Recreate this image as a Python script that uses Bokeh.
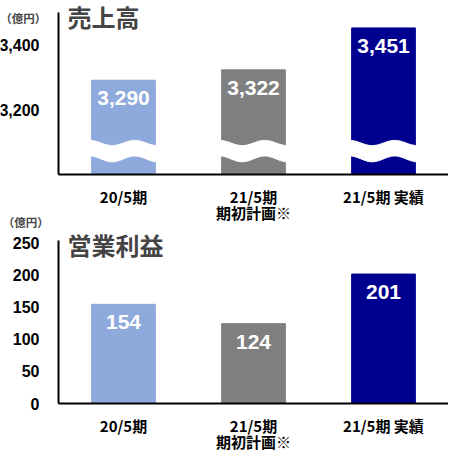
import numpy as np
from bokeh.plotting import figure
from bokeh.models import Range1d, FixedTicker, NumeralTickFormatter, Label, LinearAxis
from bokeh.core.properties import value
from bokeh.embed import file_html
from bokeh.resources import INLINE

# data
periods = ["20/5期", "21/5期\n期初計画※", "21/5期 実績"]
sales = [3290, 3322, 3451]
sales_labels = ["3,290", "3,322", "3,451"]
profit = [154, 124, 201]
profit_labels = ["154", "124", "201"]
colors = ["#8EA9DB", "#7F7F7F", "#000090"]
sales_ticks = [3200, 3400]
profit_ticks = [0, 50, 100, 150, 200, 250]

JP = "Noto Sans CJK JP"
NUM = "Liberation Sans"
pos = [i + 0.5 for i in range(len(periods))]   # bar centres
W, H = 448, 452

# one canvas, two value scales: sales on top, operating profit below
S_PX, P_PX = 0.325, 0.644          # pixels per unit
S_BASE, P_BASE = 174, 403          # pixel row of each chart's baseline
p = figure(x_range=Range1d(-58 / 130, (W - 58) / 130),
           y_range=Range1d(3000 - (H - S_BASE) / S_PX, 3000 + S_BASE / S_PX),
           width=W, height=H, output_backend="svg", toolbar_location=None,
           min_border_left=0, min_border_right=0, min_border_top=0, min_border_bottom=0)
p.extra_y_ranges = {"profit": Range1d(-(H - P_BASE) / P_PX, P_BASE / P_PX)}
p.add_layout(LinearAxis(y_range_name="profit"), "left")
p.add_layout(LinearAxis(y_range_name="profit"), "below")
p.outline_line_color = None
p.xgrid.grid_line_color = None
p.ygrid.grid_line_color = None

for ax in list(p.xaxis) + list(p.yaxis):
    ax.axis_line_width = 2
    ax.axis_line_color = "#000000"
    ax.major_tick_line_color = None
    ax.minor_tick_line_color = None
    ax.major_label_text_color = "#000000"
    ax.major_label_text_font_style = "bold"

for ax, base in zip(p.xaxis, [3000, 0]):
    ax.fixed_location = base
    ax.bounds = (0, len(periods))
    ax.ticker = FixedTicker(ticks=pos)
    ax.major_label_overrides = {x: lab for x, lab in zip(pos, periods)}
    ax.major_label_text_font = JP
    ax.major_label_text_font_size = "15px"
    ax.major_label_standoff = 5
    ax.major_label_text_line_height = 0.8

for ax, bounds, ticks in zip(p.yaxis, [(3000, 3500), (0, 253)], [sales_ticks, profit_ticks]):
    ax.fixed_location = 0
    ax.bounds = bounds
    ax.ticker = FixedTicker(ticks=ticks)
    ax.major_label_text_font = NUM
    ax.major_label_text_font_size = "16px"
    ax.major_label_standoff = 13
p.yaxis[0].formatter = NumeralTickFormatter(format="0,0")


def value_labels(vals, texts, **kw):
    p.text(x=pos, y=vals, text=texts, y_offset=18, text_color="white",
           text_font=value(NUM), text_font_style="bold", text_font_size="21px",
           text_align="center", text_baseline="middle", **kw)


def note(x, y, text, size, **kw):
    p.add_layout(Label(x=x, y=y, text=text, text_align="right" if x < 0 else "left",
                       text_baseline="middle", text_font=JP, text_font_style="bold",
                       text_font_size=size, **kw))


# sales
p.vbar(x=pos, top=sales, bottom=3000, width=0.49, color=colors)

# wavy break on each sales bar
t = np.linspace(0, 1, 40)
xs, ys = [], []
for c in pos:
    x = c - 0.26 + 0.52 * t
    top = 3097 + 8 * np.cos(3 * np.pi * t)
    bot = 3048 + 9 * np.cos(3 * np.pi * t)
    xs.append(np.r_[x, x[::-1]])
    ys.append(np.r_[top, bot[::-1]])
p.patches(xs, ys, fill_color="white", line_color="white", line_width=1)

value_labels(sales, sales_labels)
note(-0.095, 3483, "（億円）", "11.5px")
note(0.069, 3486, "売上高", "24px")

# operating profit
p.vbar(x=pos, top=profit, bottom=0, width=0.49, color=colors, y_range_name="profit")
value_labels(profit, profit_labels, y_range_name="profit")
note(-0.075, 282, "（億円）", "11.5px", y_range_name="profit")
note(0.069, 247, "営業利益", "24px", y_range_name="profit")

open("out.html", "w").write(file_html(p, INLINE))
